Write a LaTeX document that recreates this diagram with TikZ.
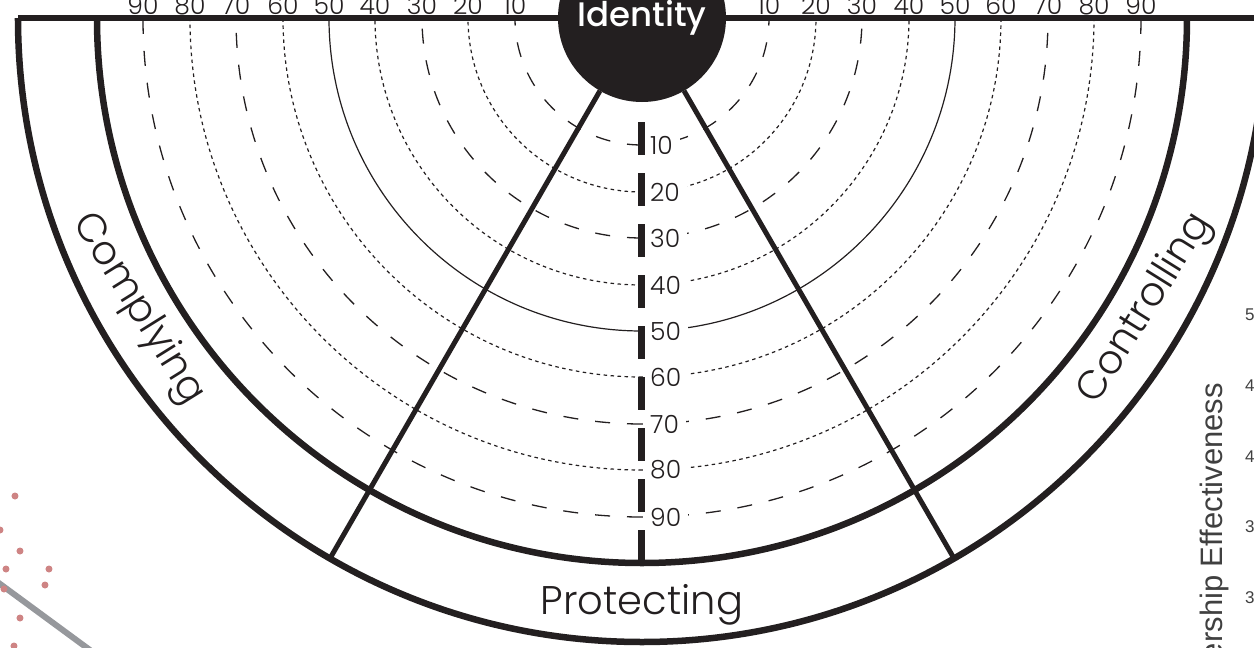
\documentclass[tikz,border=0pt]{standalone}
\usepackage{fontspec}
\setmainfont{Poppins Light}
\newfontfamily\idfont{Poppins Medium}
\newfontfamily\chartfont{Liberation Sans}
\definecolor{ink}{RGB}{35,31,32}
\definecolor{rose}{RGB}{206,132,132}
\definecolor{slate}{RGB}{150,152,156}
\definecolor{chartgrey}{RGB}{64,64,64}

\begin{document}
\begin{tikzpicture}[
  x=1pt, y=1pt,
  rim/.style={draw=ink, line width=6.5pt},
  spoke/.style={draw=ink, line width=5pt},
  ringdash/.style={draw=ink, line width=1.3pt, dash pattern=on 15pt off 17pt},
  ringdot/.style={draw=ink, line width=1.2pt, dash pattern=on 3.5pt off 3.5pt},
  ringsolid/.style={draw=ink, line width=1.2pt},
  spine/.style={draw=ink, line width=7pt, dash pattern=on 33pt off 18pt},
  ringlabel/.style={
    anchor=west, fill=white, inner xsep=7pt, inner ysep=1pt,
    font=\fontsize{25}{25}\selectfont, text=ink
  },
  toplabel/.style={anchor=base, inner sep=0pt,
    font=\fontsize{25}{25}\selectfont, text=ink},
  band/.style={font=\fontsize{40}{40}\selectfont, text=ink},
  core/.style={
    circle, fill=ink, minimum size=168pt, inner sep=0pt, outer sep=0pt,
    font=\idfont\fontsize{34}{34}\selectfont, text=white
  },
  ytick/.style={anchor=west, inner sep=0pt,
    font=\chartfont\fontsize{17}{17}\selectfont, text=chartgrey}
]
\useasboundingbox (-642,-630) rectangle (612,18);

% Scale rings, 10 (inside) to 90 (outside).
\draw[ringdash]  (0,-127) arc[start angle=270, end angle=180, radius=127]
                 (0,-127) arc[start angle=270, end angle=360, radius=127];
\draw[ringdot]   (0,-174) arc[start angle=270, end angle=180, radius=174]
                 (0,-174) arc[start angle=270, end angle=360, radius=174];
\draw[ringdash]  (0,-220) arc[start angle=270, end angle=180, radius=220]
                 (0,-220) arc[start angle=270, end angle=360, radius=220];
\draw[ringdot]   (0,-267) arc[start angle=270, end angle=180, radius=267]
                 (0,-267) arc[start angle=270, end angle=360, radius=267];
\draw[ringsolid] (0,-313) arc[start angle=270, end angle=180, radius=313]
                 (0,-313) arc[start angle=270, end angle=360, radius=313];
\draw[ringdot]   (0,-359) arc[start angle=270, end angle=180, radius=359]
                 (0,-359) arc[start angle=270, end angle=360, radius=359];
\draw[ringdash]  (0,-406) arc[start angle=270, end angle=180, radius=406]
                 (0,-406) arc[start angle=270, end angle=360, radius=406];
\draw[ringdot]   (0,-452) arc[start angle=270, end angle=180, radius=452]
                 (0,-452) arc[start angle=270, end angle=360, radius=452];
\draw[ringdash]  (0,-499) arc[start angle=270, end angle=180, radius=499]
                 (0,-499) arc[start angle=270, end angle=360, radius=499];

% Ring values along the middle axis.
\node[ringlabel] (v10) at (1,-127) {10};
\node[ringlabel] (v20) at (1,-174) {20};
\node[ringlabel] (v30) at (1,-220) {30};
\node[ringlabel] (v40) at (1,-267) {40};
\node[ringlabel] (v50) at (1,-313) {50};
\node[ringlabel] (v60) at (1,-359) {60};
\node[ringlabel] (v70) at (1,-406) {70};
\node[ringlabel] (v80) at (1,-452) {80};
\node[ringlabel] (v90) at (1,-499) {90};

% Middle axis, broken into heavy dashes.
\coordinate (spinetop) at (0,-104);
\coordinate (spinebot) at (0,-545);
\draw[spine] (spinetop) -- (spinebot);

% Outer bands and the base line.
\draw[rim] (180:545) arc[start angle=180, end angle=360, radius=545];
\draw[rim] (180:624) arc[start angle=180, end angle=360, radius=624];
\draw[rim] (-624,0) -- (612,0);

% Ring values along the base line.
\node[toplabel] (w90) at (-499,4) {90};
\node[toplabel] (w80) at (-452,4) {80};
\node[toplabel] (w70) at (-406,4) {70};
\node[toplabel] (w60) at (-359,4) {60};
\node[toplabel] (w50) at (-313,4) {50};
\node[toplabel] (w40) at (-267,4) {40};
\node[toplabel] (w30) at (-220,4) {30};
\node[toplabel] (w20) at (-174,4) {20};
\node[toplabel] (w10) at (-127,4) {10};
\node[toplabel] (e10) at (127,4) {10};
\node[toplabel] (e20) at (174,4) {20};
\node[toplabel] (e30) at (220,4) {30};
\node[toplabel] (e40) at (267,4) {40};
\node[toplabel] (e50) at (313,4) {50};
\node[toplabel] (e60) at (359,4) {60};
\node[toplabel] (e70) at (406,4) {70};
\node[toplabel] (e80) at (452,4) {80};
\node[toplabel] (e90) at (499,4) {90};

% Identity hub and the two spokes that split the sectors.
\node[core] (identity) at (0,0) {\raisebox{-3pt}{Identity}};
\coordinate (leftrim)  at (-120:624);
\coordinate (rightrim) at (-60:624);
\draw[spoke] (identity.-120) -- (leftrim);
\draw[spoke] (identity.-60) -- (rightrim);

% Sector names in the outer band.
\node[band, rotate=-58] (complying)   at (210:582) {Complying};
\node[band, rotate=58]  (controlling) at (-30:582) {Controlling};
\node[band, anchor=base] (protecting) at (0,-596) {Protecting};

% Neighbouring chart, cut by the page edge.
\node[rotate=90, anchor=base east, inner sep=0pt,
  font=\chartfont\fontsize{31}{31}\selectfont, text=chartgrey]
  (ytitle) at (580,-365) {ership Effectiveness};
\node[ytick] (y1) at (603,-297) {5};
\node[ytick] (y2) at (603,-368) {4};
\node[ytick] (y3) at (603,-439) {4};
\node[ytick] (y4) at (603,-509) {3};
\node[ytick] (y5) at (603,-580) {3};

\draw[slate, line width=6pt] (-650,-560) -- (-548,-635);
\fill[rose] (-627,-478) circle (3.5);
\fill[rose] (-642,-512) circle (3.5);
\fill[rose] (-622,-533) circle (3.5);
\fill[rose] (-636,-551) circle (3.5);
\fill[rose] (-593,-551) circle (3.5);
\fill[rose] (-597,-567) circle (3.5);
\fill[rose] (-638,-571) circle (3.5);
\fill[rose] (-622,-600) circle (3.5);
\fill[rose] (-628,-628) circle (3.5);

\end{tikzpicture}
\end{document}
